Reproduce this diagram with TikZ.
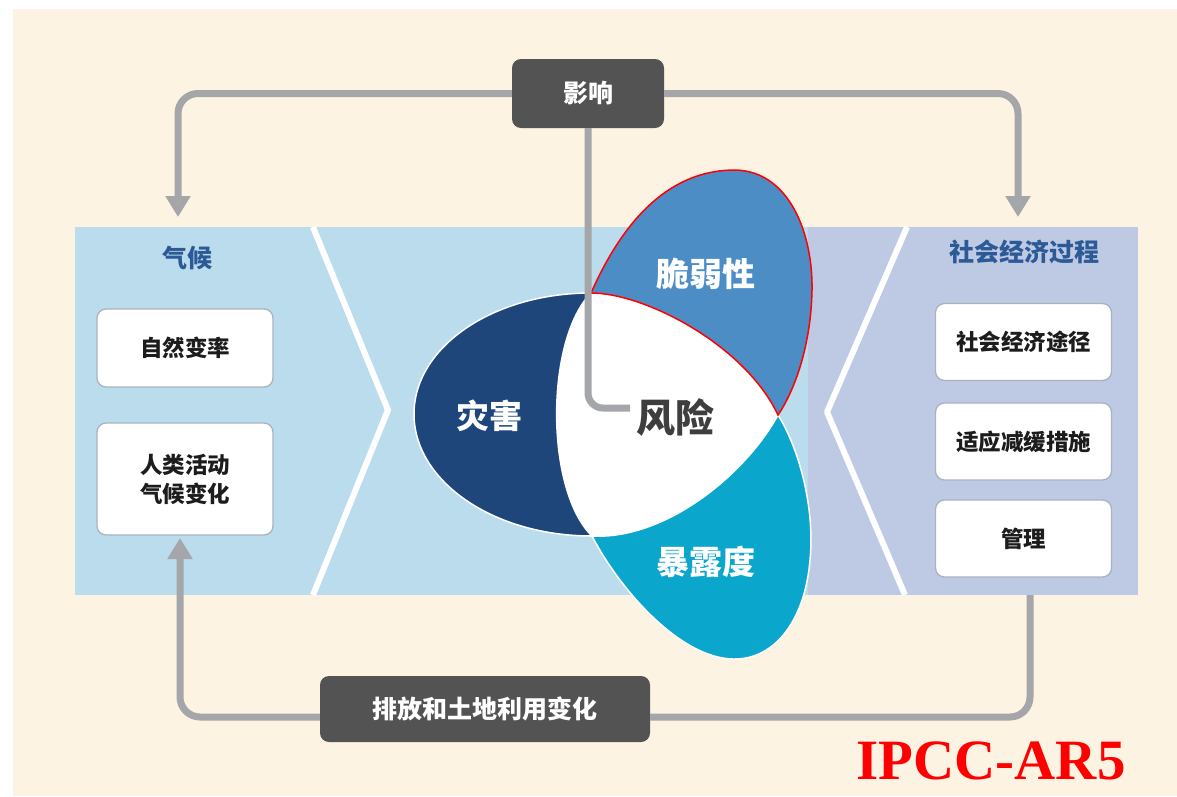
\documentclass[tikz,border=0pt]{standalone}
\usepackage{fontspec}
\newfontfamily\cjk{Noto Sans CJK SC}
\newfontfamily\timesf{Liberation Serif}
\usetikzlibrary{arrows.meta}
\definecolor{cream}{HTML}{FDF3E3}
\definecolor{bandblue}{HTML}{BBDCEC}
\definecolor{bandlav}{HTML}{BEC9E4}
\definecolor{hazcol}{HTML}{1E467A}
\definecolor{vulcol}{HTML}{4D8DC6}
\definecolor{expcol}{HTML}{0AA6CC}
\definecolor{linegray}{HTML}{A5A6AA}
\definecolor{darkbox}{HTML}{535353}
\definecolor{titleblue}{HTML}{2C5A96}
\definecolor{boxedge}{HTML}{A9B3BE}
\definecolor{txt}{HTML}{1C1C1C}
\begin{document}
\begin{tikzpicture}[x=1pt,y=-1pt,
  conn/.style={draw=linegray, line width=7pt, rounded corners=20pt},
  arr/.style={-{Triangle[width=24pt,length=21pt]}},
  whitebox/.style={rectangle, rounded corners=9pt, fill=white, draw=boxedge, line width=1.3pt,
    minimum width=176pt, text=txt, font=\cjk\bfseries\fontsize{22.5}{29}\selectfont, align=center, inner sep=0pt},
  darkboxst/.style={rectangle, rounded corners=9pt, fill=darkbox, text=white,
    font=\cjk\bfseries\fontsize{25}{28}\selectfont, inner sep=0pt},
  paneltitle/.style={text=titleblue, font=\cjk\bfseries\fontsize{25}{28}\selectfont},
  petaltext/.style={text=white, font=\cjk\bfseries\fontsize{33}{36}\selectfont},
  chev/.style={draw=white, line width=6pt, line join=round}
]
\useasboundingbox (0,0) rectangle (1177,796);
\fill[white] (0,0) rectangle (1177,796);
\fill[cream] (13,9) rectangle (1177,796);

% band
\fill[bandblue] (75,227) rectangle (808,595);
\fill[bandlav] (808,227) rectangle (1138,595);
\draw[chev] (313,227) -- (388,410) -- (313,595);
\draw[chev] (907,227) -- (827,412) -- (905,595);

% titles
\node[paneltitle] (climate) at (187,258) {气候};
\node[paneltitle] (socio) at (1024,252) {社会经济过程};

% left boxes
\node[whitebox, minimum height=78pt] (natural) at (185,348) {自然变率};
\node[whitebox, minimum height=112pt] (human) at (185,479) {人类活动\\气候变化};

% right boxes
\node[whitebox, minimum height=77pt] (path) at (1023.5,342) {社会经济途径};
\node[whitebox, minimum height=77pt] (adapt) at (1023.5,441.5) {适应减缓措施};
\node[whitebox, minimum height=77pt] (gov) at (1023.5,538.5) {管理};

% petals
\coordinate (A) at (591,293);
\coordinate (B) at (778,415);
\coordinate (C) at (592,536);
\fill[white] (A) .. controls (645,293) and (745,345) .. (B)
  .. controls (745,475) and (665,540) .. (C)
  .. controls (545,490) and (545,340) .. (A) -- cycle;
\filldraw[fill=hazcol, draw=white, line width=1.5pt]
  (A) .. controls (493,293) and (414,347) .. (414,414)
  .. controls (414,481) and (493,536) .. (C)
  .. controls (545,490) and (545,340) .. (A) -- cycle;
\filldraw[fill=expcol, draw=white, line width=1.5pt]
  (B) .. controls (800,450) and (815,510) .. (810,560)
  .. controls (805,620) and (775,660) .. (733,659)
  .. controls (680,658) and (620,590) .. (C)
  .. controls (665,540) and (745,475) .. (B) -- cycle;
\filldraw[fill=vulcol, draw=red, line width=1.5pt]
  (A) .. controls (630,205) and (680,170) .. (735,170)
  .. controls (790,171) and (813,235) .. (812,290)
  .. controls (811,345) and (795,390) .. (B)
  .. controls (745,345) and (645,293) .. (A) -- cycle;

\node[petaltext] (hazard) at (489,416) {灾害};
\node[petaltext] (vuln) at (706,274) {脆弱性};
\node[petaltext] (expo) at (706,562) {暴露度};
\node[text=txt!85!white, font=\cjk\bfseries\fontsize{39}{42}\selectfont] (risk) at (675,418) {风险};

% dark boxes
\node[darkboxst, minimum width=152pt, minimum height=69pt] (impact) at (588,93.5) {影响};
\node[darkboxst, minimum width=330pt, minimum height=66pt] (emis) at (485,709) {排放和土地利用变化};

% connectors
\coordinate (cl) at (178,217);
\coordinate (cr) at (1018,217);
\coordinate (rk) at (630,408);
\coordinate (bs) at (1030,595);
\coordinate (bl) at (180,538);
\draw[conn, arr] (impact.west) -| (cl);
\draw[conn, arr] (impact.east) -| (cr);
\draw[conn, rounded corners=15pt] (impact.south) |- (rk);
\draw[conn] (bs) |- ([yshift=-8pt]emis.east);
\draw[conn, arr] ([yshift=-8pt]emis.west) -| (bl);

% source
\node[text=red, font=\timesf\bfseries\fontsize{57}{60}\selectfont] (src) at (991,761) {IPCC-AR5};
\end{tikzpicture}
\end{document}
